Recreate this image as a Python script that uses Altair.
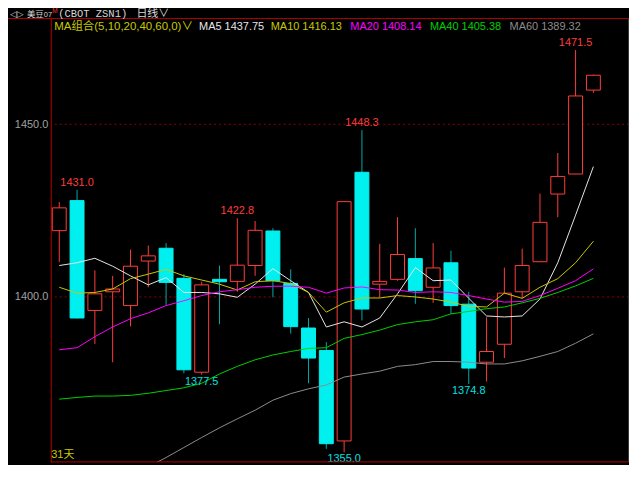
import altair as alt
import pandas as pd

# ---------------- data ----------------
opens  = [1419.2, 1427.9, 1396.1, 1401.5, 1397.5, 1410.4, 1414.1, 1405.4, 1378.2, 1405.1,
          1404.5, 1409.1, 1419.1, 1403.9, 1391.0, 1384.5, 1358.3, 1436.1, 1403.7, 1405.1,
          1411.1, 1402.8, 1409.9, 1397.9, 1381.1, 1386.3, 1401.5, 1410.2, 1429.8, 1435.6, 1459.9]
highs  = [1427.5, 1431.0, 1407.7, 1406.1, 1413.7, 1414.9, 1415.6, 1406.6, 1404.4, 1409.1,
          1422.8, 1422.0, 1419.9, 1408.0, 1393.9, 1386.9, 1427.6, 1448.3, 1415.4, 1423.1,
          1419.9, 1415.6, 1413.4, 1401.5, 1394.1, 1408.5, 1414.0, 1429.9, 1441.7, 1471.5, 1464.4]
lows   = [1410.1, 1393.7, 1386.4, 1381.1, 1391.5, 1402.8, 1397.7, 1377.9, 1377.5, 1392.1,
          1401.5, 1406.1, 1399.9, 1389.4, 1375.0, 1356.0, 1355.0, 1393.2, 1399.9, 1404.7,
          1398.0, 1398.3, 1395.1, 1374.8, 1375.5, 1382.3, 1399.6, 1410.2, 1423.1, 1435.6, 1459.1]
closes = [1425.8, 1393.9, 1400.9, 1402.3, 1408.9, 1411.9, 1404.2, 1378.9, 1403.5, 1404.4,
          1409.2, 1419.3, 1404.7, 1391.4, 1382.3, 1357.5, 1427.6, 1396.5, 1404.5, 1412.3,
          1401.8, 1408.4, 1397.5, 1379.4, 1384.2, 1401.1, 1409.1, 1421.6, 1434.9, 1458.2, 1464.2]

ma5  = [1409.1, 1409.9, 1411.2, 1408.9, 1406.1, 1403.5, 1405.6, 1401.3, 1401.3, 1400.9,
        1399.9, 1403.7, 1408.2, 1404.7, 1401.3, 1391.3, 1392.8, 1391.3, 1393.9, 1400.9,
        1408.5, 1404.7, 1404.9, 1399.6, 1394.5, 1394.2, 1394.5, 1399.4, 1409.9, 1423.7, 1437.75]
ma10 = [1402.8, 1401.1, 1401.3, 1402.3, 1405.3, 1406.6, 1408.0, 1406.1, 1404.9, 1403.7,
        1402.0, 1404.4, 1404.7, 1403.9, 1401.3, 1395.6, 1398.3, 1399.7, 1399.7, 1400.4,
        1400.0, 1399.4, 1398.5, 1397.3, 1397.1, 1401.1, 1399.6, 1402.8, 1405.3, 1409.9, 1416.13]
ma20 = [1384.7, 1385.3, 1388.5, 1391.3, 1393.7, 1395.4, 1397.5, 1398.9, 1400.4, 1401.5,
        1402.1, 1402.8, 1403.1, 1403.1, 1402.8, 1401.1, 1402.6, 1402.9, 1402.1, 1402.0,
        1401.3, 1401.5, 1401.3, 1400.4, 1399.4, 1398.5, 1398.7, 1400.4, 1402.5, 1404.7, 1408.14]
ma40 = [1370.4, 1370.9, 1371.3, 1371.3, 1371.5, 1372.1, 1372.9, 1373.7, 1375.0, 1377.7,
        1379.9, 1381.8, 1383.2, 1384.2, 1385.1, 1385.3, 1388.0, 1389.1, 1390.4, 1392.0,
        1392.8, 1393.4, 1395.1, 1395.8, 1396.6, 1397.1, 1398.3, 1399.6, 1401.3, 1403.2, 1405.38]
ma60 = [1336.0, 1339.0, 1342.0, 1345.0, 1348.0, 1350.8, 1353.5, 1356.4, 1359.3, 1362.1,
        1364.7, 1367.2, 1370.1, 1372.0, 1373.4, 1374.5, 1376.8, 1377.7, 1378.5, 1379.9,
        1380.4, 1381.3, 1381.3, 1381.1, 1380.6, 1380.6, 1381.5, 1382.8, 1384.2, 1386.6, 1389.32]

ma_names  = ["MA5", "MA10", "MA20", "MA40", "MA60"]
ma_colors = ["#e6e6e6", "#c8c800", "#ff00ff", "#00d000", "#8c8c8c"]

grid_levels = [1400, 1450]
high_marks = [1, 10, 17, 29]     # candles whose high is annotated
low_marks = [8, 16, 23]          # candles whose low is annotated
day_count_label = "31天"

# ---------------- layout ----------------
X0, Y0 = 51, 16          # page position of plot origin
W, H = 581, 447
RED = "#ff3c3c"
CYAN = "#00f0f0"
TEAL = "#00a8a8"
AXRED = "#b40000"
FONT = "Liberation Sans, Arial, sans-serif"
CJK = "Liberation Sans, 'Noto Sans CJK SC', sans-serif"

days = list(range(len(opens)))
candles = pd.DataFrame({"i": days, "open": opens, "high": highs, "low": lows, "close": closes})

ma_df = pd.DataFrame(
    [{"i": d, "series": n, "value": v}
     for n, vals in zip(ma_names, [ma5, ma10, ma20, ma40, ma60])
     for d, v in zip(days, vals)]
)

hi_df = pd.DataFrame({"i": high_marks, "v": [highs[k] for k in high_marks]})
lo_df = pd.DataFrame({"i": low_marks, "v": [lows[k] for k in low_marks]})
grid_df = pd.DataFrame({"level": grid_levels})
ONE = pd.DataFrame({"k": [0]})

xs = alt.Scale(domain=[-0.475, 32.0], nice=False, zero=False, padding=0)
ys = alt.Scale(domain=[1352.23, 1481.05], nice=False, zero=False, padding=0)
Y_AXIS = alt.Axis(values=grid_levels, format=".1f", title=None, ticks=False, grid=False,
                  domain=True, domainColor=AXRED, domainWidth=1,
                  labelColor="#a0a0a0", labelFont=FONT, labelFontSize=11, labelPadding=3)
X = alt.X("i:Q", scale=xs, axis=None)

up = "datum.close >= datum.open"

grid = alt.Chart(grid_df).mark_rule(color="#8c0000", strokeDash=[2, 3], strokeWidth=1).encode(
    y=alt.Y("level:Q", scale=ys, axis=Y_AXIS)
)

wicks = alt.Chart(candles).mark_rule(strokeWidth=1).encode(
    x=X,
    y=alt.Y("low:Q", scale=ys, axis=Y_AXIS),
    y2="high:Q",
    color=alt.condition(up, alt.value(RED), alt.value(TEAL)),
)

bodies = alt.Chart(candles).mark_bar(size=14, strokeWidth=1).encode(
    x=X,
    y=alt.Y("open:Q", scale=ys, axis=Y_AXIS),
    y2="close:Q",
    fill=alt.condition(up, alt.value("#000000"), alt.value(CYAN)),
    stroke=alt.condition(up, alt.value(RED), alt.value(CYAN)),
)

lines = alt.Chart(ma_df).mark_line(strokeWidth=1, clip=True).encode(
    x=X,
    y=alt.Y("value:Q", scale=ys, axis=Y_AXIS),
    color=alt.Color("series:N", scale=alt.Scale(domain=ma_names, range=ma_colors), legend=None),
    detail="series:N",
)

hi_lbl = alt.Chart(hi_df).mark_text(color=RED, font=FONT, fontSize=11, baseline="bottom", dy=-2).encode(
    x=X, y=alt.Y("v:Q", scale=ys, axis=Y_AXIS), text=alt.Text("v:Q", format=".1f")
)
lo_lbl = alt.Chart(lo_df).mark_text(color="#00e0e0", font=FONT, fontSize=11, baseline="top", dy=1).encode(
    x=X, y=alt.Y("v:Q", scale=ys, axis=Y_AXIS), text=alt.Text("v:Q", format=".1f")
)


def frame_rule(x1, x2, y1, y2, color, width=1):
    return alt.Chart(ONE).mark_rule(color=color, strokeWidth=width).encode(
        x=alt.value(x1), x2=alt.value(x2), y=alt.value(y1), y2=alt.value(y2)
    )


def label(txt, px, py, color, size=11, font=FONT, baseline="middle"):
    return alt.Chart(ONE).mark_text(text=txt, color=color, fontSize=size, font=font,
                                    align="left", baseline=baseline).encode(
        x=alt.value(px - X0), y=alt.value(py - Y0)
    )


frames = [
    frame_rule(-X0, W + 10, 17.5 - Y0, 17.5 - Y0, AXRED),   # top bar line
    frame_rule(0, W, H, H, AXRED),                          # bottom line
    frame_rule(W, W, 17.5 - Y0, H, "#3c3c3c", 2),           # right edge
]

texts = [
    label("◁▷", 10, 15.5, "#c8c8c8", 9, "DejaVu Sans", "alphabetic"),
    label("美豆", 27, 15.5, "#d8d8d8", 8.5, CJK, "alphabetic"),
    label("07", 44, 15.5, "#d8d8d8", 7.5, FONT, "alphabetic"),
    label("M", 52.5, 12, "#ff3030", 6.5, FONT, "alphabetic"),
    label("(CBOT ZSN1)", 58.5, 15.5, "#d8d8d8", 10.5, "Liberation Mono", "alphabetic"),
    label("日线∨", 137, 15.5, "#d8d8d8", 11, CJK, "alphabetic"),
    label("MA组合(5,10,20,40,60,0)∨", 54.5, 25.5, "#c8c800", 11.5, CJK),
    label(f"MA5 {ma5[-1]:.2f}", 200, 25.5, ma_colors[0], 11),
    label(f"MA10 {ma10[-1]:.2f}", 272, 25.5, ma_colors[1], 11),
    label(f"MA20 {ma20[-1]:.2f}", 352, 25.5, ma_colors[2], 11),
    label(f"MA40 {ma40[-1]:.2f}", 432, 25.5, ma_colors[3], 11),
    label(f"MA60 {ma60[-1]:.2f}", 512, 25.5, ma_colors[4], 11),
    label(day_count_label, 51.5, 461, "#c8c800", 11, CJK, "bottom"),
]

chart = alt.layer(grid, wicks, bodies, lines, hi_lbl, lo_lbl, *frames, *texts).properties(
    width=W,
    height=H,
    padding={"left": 43, "top": 8, "right": 0, "bottom": 2},
    autosize=alt.AutoSizeParams(type="none"),
    background="#000000",
).configure_view(stroke=None)

chart.save("out.html", embed_options={"renderer": "svg", "actions": False})
